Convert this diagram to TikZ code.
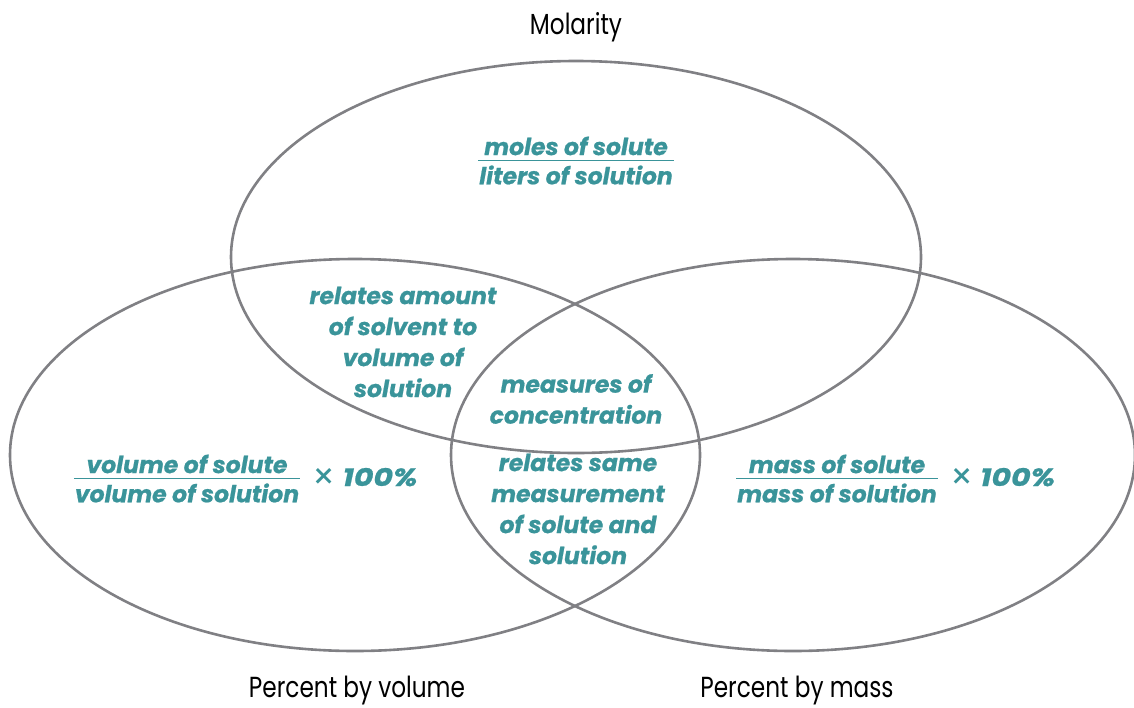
\documentclass[tikz,border=0pt]{standalone}
\usepackage{fontspec}
\setmainfont{Poppins}
\newfontfamily\labelfont[FakeStretch=0.8]{Poppins}
\newfontfamily\notefont[FakeBold=0.8]{Poppins}
\usetikzlibrary{shapes.geometric,positioning}
\definecolor{ringgray}{RGB}{128,128,132}
\definecolor{noteteal}{RGB}{58,148,154}
\setlength{\arrayrulewidth}{1.2pt}
\newcommand{\ratio}[2]{\begin{tabular}{@{\hspace{1pt}}c@{\hspace{1pt}}}#1\\[-4.3pt]\hline\rule{0pt}{23pt}#2\end{tabular}}
\newcommand{\timessign}{\raisebox{-3pt}{\normalfont\fontsize{36}{31}\selectfont\color{noteteal}×}}

\begin{document}
\begin{tikzpicture}[x=1pt, y=-1pt,
    ring/.style={draw=ringgray, line width=2.6pt, ellipse, inner sep=0pt, minimum width=690pt, minimum height=392pt},
    note/.style={text=noteteal, font=\notefont\fontsize{23.5}{31}\selectfont\bfseries\itshape, align=center, inner sep=0pt},
    times/.style={text=noteteal, font=\notefont\fontsize{25}{31}\selectfont\bfseries\itshape\addfontfeature{FakeStretch=1.2}, inner sep=0pt},
    title/.style={font=\labelfont\fontsize{29}{34}\selectfont, inner sep=0pt}
]
\useasboundingbox (0,0) rectangle (1134,707);
% the three sets
\node[ring] (molar) at (576,257) {};
\node[ring] (vol) at (355,455) {};
\node[ring, minimum width=684pt] (mass) at (793,455) {};
% set names
\node[title] (molarity) at (576,27) {Molarity};
\node[title] (pvol) at (357,690) {Percent by volume};
\node[title] (pmass) at (797,690) {Percent by mass};
% formulas
\node[note] (molfrac) at (576,163.5) {\ratio{moles of solute}{liters of solution}};
\node[note] (volfrac) at (187,481.5) {\ratio{volume of solute}{volume of solution}};
\node[times, right=12pt of volfrac, yshift=3pt] (volpct) {\timessign{} 100\%};
\node[note] (massfrac) at (837,481.5) {\ratio{mass of solute}{mass of solution}};
\node[times, right=12pt of massfrac, yshift=3pt] (masspct) {\timessign{} 100\%};
% overlaps
\node[note] (amount) at (403,342) {relates amount\\of solvent to\\volume of\\solution};
\node[note] (measures) at (576,399) {measures of\\concentration};
\node[note] (same) at (578,509) {relates same\\measurement\\of solute and\\solution};
\end{tikzpicture}
\end{document}
